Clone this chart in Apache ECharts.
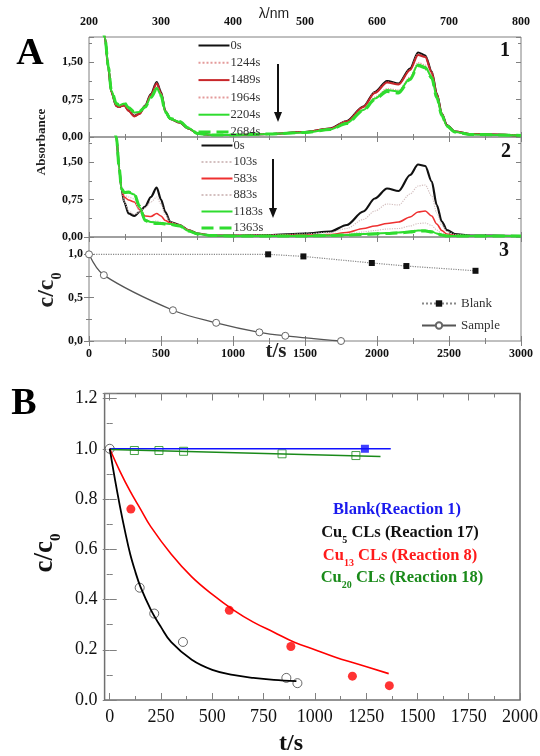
<!DOCTYPE html>
<html>
<head>
<meta charset="utf-8">
<script src="https://cdn.jsdelivr.net/npm/echarts@6/dist/echarts.min.js"></script>
<style>
  html, body { margin: 0; padding: 0; background: #fff; }
  #chart { width: 540px; height: 756px; }
</style>
</head>
<body>
<div id="chart"></div>
<script>
// ---------- panel A1 / A2 : absorbance spectra ----------
const wavelength = [215, 222, 227, 231, 238, 242, 245, 249, 255, 263, 270, 278, 286, 294, 300, 306, 313, 326, 338, 351,
  370, 400, 450, 500, 535, 558, 581, 597, 614, 630, 646, 657, 667, 676, 683, 690, 697, 708, 730, 800];

// A1 (blank reaction)
const a1_0s    = [2.6, 2.0, 1.37, 0.9, 0.62, 0.6, 0.62, 0.64, 0.53, 0.42, 0.47, 0.63, 0.86, 1.1, 0.9, 0.52, 0.36, 0.29, 0.17, 0.07,
  0.04, 0.04, 0.06, 0.1, 0.17, 0.32, 0.61, 0.9, 1.12, 1.07, 1.37, 1.69, 1.63, 1.31, 0.87, 0.47, 0.24, 0.11, 0.06, 0.03];
const a1_1244s = [2.6, 2.0, 1.37, 0.9, 0.62, 0.6, 0.62, 0.64, 0.53, 0.42, 0.47, 0.62, 0.85, 1.08, 0.89, 0.52, 0.36, 0.29, 0.17, 0.07,
  0.04, 0.04, 0.06, 0.1, 0.17, 0.32, 0.6, 0.89, 1.1, 1.06, 1.35, 1.66, 1.61, 1.3, 0.86, 0.47, 0.24, 0.11, 0.06, 0.03];
const a1_1489s = [2.6, 2.0, 1.37, 0.9, 0.62, 0.6, 0.62, 0.63, 0.52, 0.41, 0.46, 0.62, 0.84, 1.07, 0.88, 0.51, 0.36, 0.29, 0.17, 0.07,
  0.04, 0.04, 0.06, 0.1, 0.17, 0.31, 0.6, 0.88, 1.09, 1.05, 1.34, 1.64, 1.6, 1.29, 0.86, 0.46, 0.23, 0.11, 0.06, 0.03];
const a1_1964s = [2.6, 2.0, 1.39, 0.92, 0.65, 0.62, 0.64, 0.66, 0.56, 0.46, 0.49, 0.61, 0.82, 1.0, 0.86, 0.51, 0.36, 0.3, 0.18, 0.07,
  0.04, 0.04, 0.06, 0.09, 0.16, 0.29, 0.56, 0.8, 0.97, 0.94, 1.2, 1.49, 1.44, 1.23, 0.82, 0.45, 0.23, 0.1, 0.05, 0.03];
const a1_2204s = [2.6, 2.0, 1.4, 0.93, 0.66, 0.63, 0.65, 0.67, 0.58, 0.49, 0.5, 0.6, 0.8, 0.98, 0.84, 0.5, 0.36, 0.3, 0.18, 0.07,
  0.04, 0.04, 0.06, 0.09, 0.15, 0.28, 0.54, 0.77, 0.94, 0.91, 1.17, 1.45, 1.4, 1.2, 0.8, 0.44, 0.22, 0.1, 0.05, 0.03];
const a1_2684s = [2.6, 2.0, 1.4, 0.94, 0.67, 0.64, 0.66, 0.68, 0.59, 0.5, 0.51, 0.6, 0.79, 0.96, 0.83, 0.5, 0.37, 0.31, 0.18, 0.07,
  0.04, 0.04, 0.06, 0.09, 0.15, 0.27, 0.53, 0.75, 0.91, 0.88, 1.15, 1.43, 1.38, 1.18, 0.79, 0.43, 0.22, 0.1, 0.05, 0.03];

// A2 (sample)
const a2_0s    = [3.0, 3.0, 2.8, 2.5, 2.0, 1.37, 0.97, 0.7, 0.47, 0.42, 0.5, 0.61, 0.8, 0.99, 0.75, 0.5, 0.3, 0.24, 0.14, 0.07,
  0.03, 0.03, 0.04, 0.07, 0.11, 0.24, 0.51, 0.77, 0.97, 0.92, 1.24, 1.45, 1.42, 1.11, 0.64, 0.31, 0.14, 0.06, 0.03, 0.02];
const a2_103s  = [3.0, 3.0, 2.8, 2.5, 2.0, 1.37, 0.97, 0.72, 0.52, 0.45, 0.5, 0.58, 0.7, 0.8, 0.66, 0.45, 0.3, 0.24, 0.14, 0.07,
  0.03, 0.03, 0.04, 0.06, 0.09, 0.17, 0.35, 0.52, 0.66, 0.64, 0.86, 1.02, 1.04, 0.82, 0.48, 0.24, 0.11, 0.05, 0.03, 0.02];
const a2_583s  = [3.0, 3.0, 2.8, 2.5, 2.0, 1.37, 0.97, 0.8, 0.74, 0.7, 0.55, 0.42, 0.41, 0.47, 0.42, 0.33, 0.28, 0.24, 0.14, 0.07,
  0.03, 0.03, 0.03, 0.04, 0.05, 0.09, 0.17, 0.22, 0.27, 0.3, 0.4, 0.5, 0.52, 0.42, 0.26, 0.13, 0.06, 0.03, 0.02, 0.02];
const a2_883s  = [3.0, 3.0, 2.8, 2.5, 2.0, 1.37, 0.97, 0.84, 0.8, 0.76, 0.5, 0.34, 0.31, 0.32, 0.3, 0.27, 0.25, 0.23, 0.13, 0.06,
  0.03, 0.03, 0.03, 0.03, 0.04, 0.06, 0.1, 0.13, 0.16, 0.17, 0.22, 0.27, 0.28, 0.23, 0.14, 0.07, 0.04, 0.02, 0.02, 0.02];
const a2_1183s = [3.0, 3.0, 2.8, 2.5, 2.0, 1.37, 0.97, 0.88, 0.89, 0.85, 0.6, 0.34, 0.3, 0.29, 0.28, 0.27, 0.26, 0.22, 0.12, 0.06,
  0.03, 0.02, 0.02, 0.02, 0.03, 0.04, 0.06, 0.07, 0.08, 0.09, 0.11, 0.13, 0.13, 0.11, 0.07, 0.04, 0.02, 0.02, 0.02, 0.02];
const a2_1363s = [3.0, 3.0, 2.8, 2.5, 2.0, 1.37, 0.97, 0.89, 0.9, 0.86, 0.62, 0.33, 0.28, 0.27, 0.27, 0.26, 0.25, 0.22, 0.12, 0.06,
  0.03, 0.02, 0.02, 0.02, 0.03, 0.04, 0.05, 0.06, 0.07, 0.08, 0.1, 0.12, 0.12, 0.1, 0.07, 0.04, 0.02, 0.02, 0.02, 0.02];

// ---------- panel A3 : c/c0 vs t ----------
const a3BlankT  = [0, 1244, 1489, 1964, 2204, 2684];
const a3BlankC  = [1.0, 1.0, 0.976, 0.9, 0.865, 0.81];
const a3SampleT = [0, 103, 583, 883, 1183, 1363, 1750];
const a3SampleC = [1.0, 0.76, 0.355, 0.21, 0.1, 0.06, 0.0];

// ---------- panel B : c/c0 vs t ----------
const bBlankT = [1244];
const bBlankC = [1.0];
const bBlankFitT = [0, 1370];
const bBlankFitC = [1.0, 1.0];
const bCu5T = [0, 146, 217, 357, 861, 915];
const bCu5C = [1.0, 0.447, 0.344, 0.231, 0.088, 0.067];
const bCu5FitT = [0, 25, 50, 75, 100, 125, 150, 200, 250, 300, 400, 500, 600, 700, 800, 910];
const bCu5FitC = [1.0, 0.88, 0.77, 0.67, 0.58, 0.51, 0.45, 0.36, 0.29, 0.23, 0.16, 0.12, 0.1, 0.088, 0.08, 0.075];
const bCu13T = [103, 583, 883, 1183, 1363];
const bCu13C = [0.76, 0.357, 0.213, 0.095, 0.057];
const bCu13FitT = [0, 50, 100, 150, 200, 300, 400, 500, 600, 700, 800, 900, 1000, 1100, 1200, 1360];
const bCu13FitC = [1.0, 0.91, 0.83, 0.76, 0.69, 0.58, 0.49, 0.42, 0.36, 0.31, 0.27, 0.23, 0.2, 0.17, 0.145, 0.105];
const bCu20T = [120, 240, 360, 840, 1200];
const bCu20C = [0.993, 0.993, 0.99, 0.98, 0.973];
const bCu20FitT = [0, 1320];
const bCu20FitC = [0.997, 0.969];
const bTickMajor = [0, 250, 500, 750, 1000, 1250, 1500, 1750, 2000];
const bTickMinor = [125, 375, 625, 875, 1125, 1375, 1625, 1875];

const chart = echarts.init(document.getElementById('chart'));
const SERIF = 'Liberation Serif';
const FRAME = '#808080';
const pair = (xs, ys) => xs.map((x, i) => [x, ys[i]]);

// axis that only draws ticks (and optionally labels); the frame comes from grid border
function axis(gridIndex, position, min, max, interval, o) {
  o = o || {};
  const tick = { show: true, inside: true, length: o.tickLen || 5, lineStyle: { color: FRAME, width: 1 } };
  if (o.ticks) tick.customValues = o.ticks;
  const ax = {
    type: 'value', gridIndex: gridIndex, position: position, min: min, max: max,
    axisLine: { show: false },
    splitLine: { show: false },
    axisTick: tick,
    minorTick: { show: !!o.minor, splitNumber: 2, length: 3, lineStyle: { color: FRAME } },
    axisLabel: o.label ? Object.assign({ show: true, color: '#111', fontFamily: SERIF, formatter: v => String(v) }, o.label) : { show: false }
  };
  if (interval != null) ax.interval = interval;
  return ax;
}

const boldA = { fontWeight: 'bold', fontSize: 12 };
const comma = d => v => v.toFixed(d).replace('.', ',');

const gridA = { left: 89, width: 432, show: true, borderColor: FRAME, borderWidth: 1, outerBoundsMode: 'none' };

function spec(name, data, xi, yi, color, width, type) {
  return {
    name: name, type: 'line', xAxisIndex: xi, yAxisIndex: yi,
    data: pair(wavelength, data), symbol: 'none', showSymbol: false,
    smooth: 0.3, smoothMonotone: 'x',
    lineStyle: { color: color, width: width, type: type || 'solid' },
    itemStyle: { color: color }
  };
}

const DOT1 = '#e49a9a', DOT2 = '#d4c0c0', GREEN = '#2fdc2f';
const specLegend = {
  orient: 'vertical', padding: 0, itemWidth: 31, itemHeight: 10,
  selectedMode: false, itemStyle: { opacity: 0 },
  textStyle: { fontFamily: SERIF, fontSize: 12.5, color: '#333', padding: [0, 0, 0, -4] }
};
const thickDash = name => ({ name: name, lineStyle: { width: 3 } });

const option = {
  animation: false,
  backgroundColor: '#fff',
  grid: [
    Object.assign({ top: 37, height: 100 }, gridA),
    Object.assign({ top: 137, height: 100 }, gridA),
    Object.assign({ top: 237, height: 104 }, gridA),
    { left: 104.6, width: 415.4, top: 393.5, height: 306.5, show: true, borderColor: '#707070', borderWidth: 1.5, outerBoundsMode: 'none' }
  ],
  xAxis: [
    axis(0, 'top', 200, 800, 100, { minor: true, label: Object.assign({ margin: 9, showMinLabel: true, showMaxLabel: true }, boldA) }),
    axis(0, 'bottom', 200, 800, 100, { minor: true }),
    axis(1, 'top', 200, 800, 100, { minor: true }),
    axis(1, 'bottom', 200, 800, 100, { minor: true }),
    axis(2, 'bottom', 0, 3000, 500, { minor: true, label: Object.assign({ margin: 7, showMinLabel: true, showMaxLabel: true }, boldA) }),
    axis(2, 'top', 0, 3000, 500, { minor: true }),
    axis(3, 'bottom', -25, 2000, null, { ticks: bTickMajor, tickLen: 7,
      label: { customValues: bTickMajor, fontSize: 18, margin: 8 } }),
    axis(3, 'bottom', -25, 2000, null, { ticks: bTickMinor, tickLen: 4 }),
    axis(3, 'top', -25, 2000, null, { ticks: bTickMajor, tickLen: 7 }),
    axis(3, 'top', -25, 2000, null, { ticks: bTickMinor, tickLen: 4 })
  ],
  yAxis: [
    axis(0, 'left', 0, 2.0, 0.75, { minor: true, label: Object.assign({ margin: 6, showMaxLabel: false, formatter: comma(2) }, boldA) }),
    axis(0, 'right', 0, 2.0, 0.75, { minor: true }),
    axis(1, 'left', 0, 2.0, 0.75, { minor: true, label: Object.assign({ margin: 6, showMaxLabel: false, formatter: comma(2) }, boldA) }),
    axis(1, 'right', 0, 2.0, 0.75, { minor: true }),
    axis(2, 'left', 0, 1.2, 0.5, { minor: true, label: Object.assign({ margin: 6, showMaxLabel: false, formatter: comma(1) }, boldA) }),
    axis(2, 'right', 0, 1.2, 0.5, { minor: true }),
    axis(3, 'left', 0, 1.22, 0.2, { minor: true, tickLen: 7,
      label: { margin: 7, fontSize: 18, showMaxLabel: false, formatter: v => v.toFixed(1) } }),
    axis(3, 'right', 0, 1.22, 0.2, { minor: true, tickLen: 7 })
  ],
  legend: [
    Object.assign({ data: ['0s', '1244s', '1489s', '1964s', '2204s', thickDash('2684s')], left: 197, top: 39, itemGap: 4.3 }, specLegend),
    Object.assign({ data: ['0s', '103s', '583s', '883s', '1183s', thickDash('1363s')], left: 200, top: 139, itemGap: 3.5 }, specLegend),
    {
      data: ['Blank', 'Sample'], padding: 0,
      orient: 'vertical', left: 421, top: 297, itemWidth: 34, itemHeight: 8, itemGap: 9,
      selectedMode: false, textStyle: { fontFamily: SERIF, fontSize: 13, color: '#333' }
    }
  ],
  series: [
    // A1
    spec('0s', a1_0s, 0, 0, '#111', 2.2),
    spec('1244s', a1_1244s, 0, 0, DOT1, 1.2, 'dotted'),
    spec('1489s', a1_1489s, 0, 0, '#c8262a', 2),
    spec('1964s', a1_1964s, 0, 0, DOT1, 1.2, 'dotted'),
    spec('2204s', a1_2204s, 0, 0, GREEN, 2),
    spec('2684s', a1_2684s, 0, 0, GREEN, 3, 'dashed'),
    // A2
    spec('0s', a2_0s, 2, 2, '#111', 2.2),
    spec('103s', a2_103s, 2, 2, DOT2, 1.2, 'dotted'),
    spec('583s', a2_583s, 2, 2, '#ee3030', 1.6),
    spec('883s', a2_883s, 2, 2, DOT2, 1.2, 'dotted'),
    spec('1183s', a2_1183s, 2, 2, GREEN, 2),
    spec('1363s', a2_1363s, 2, 2, GREEN, 3, 'dashed'),
    // A3
    {
      name: 'Blank', type: 'line', xAxisIndex: 4, yAxisIndex: 4,
      data: a3BlankT.map((t, i) => i === 0 ? { value: [t, a3BlankC[i]], symbol: 'none' } : [t, a3BlankC[i]]),
      symbol: 'rect', symbolSize: 6, itemStyle: { color: '#111' },
      lineStyle: { color: '#888', width: 1.2, type: 'dotted' }
    },
    {
      name: 'Sample', type: 'line', xAxisIndex: 4, yAxisIndex: 4, smooth: 0.35,
      data: pair(a3SampleT, a3SampleC),
      symbol: 'circle', symbolSize: 7, itemStyle: { color: '#fff', borderColor: '#666', borderWidth: 1 },
      lineStyle: { color: '#555', width: 1.3 }
    },
    // B fits
    { type: 'line', xAxisIndex: 6, yAxisIndex: 6, data: pair(bBlankFitT, bBlankFitC), symbol: 'none',
      lineStyle: { color: '#1010ff', width: 1.6 } },
    { type: 'line', xAxisIndex: 6, yAxisIndex: 6, data: pair(bCu20FitT, bCu20FitC), symbol: 'none',
      lineStyle: { color: '#1a8a1a', width: 1.6 } },
    { type: 'line', xAxisIndex: 6, yAxisIndex: 6, data: pair(bCu13FitT, bCu13FitC), symbol: 'none', smooth: 0.4,
      lineStyle: { color: '#ff0000', width: 1.6 } },
    { type: 'line', xAxisIndex: 6, yAxisIndex: 6, data: pair(bCu5FitT, bCu5FitC), symbol: 'none', smooth: 0.4,
      lineStyle: { color: '#000', width: 1.8 } },
    // B points
    { type: 'scatter', xAxisIndex: 6, yAxisIndex: 6, data: pair(bCu20T, bCu20C), symbol: 'rect', symbolSize: 8,
      itemStyle: { color: '#fff', borderColor: '#1a8a1a', borderWidth: 1 } },
    { type: 'scatter', xAxisIndex: 6, yAxisIndex: 6, data: pair(bBlankT, bBlankC), symbol: 'rect', symbolSize: 8,
      itemStyle: { color: '#1010ff' } },
    { type: 'scatter', xAxisIndex: 6, yAxisIndex: 6, data: pair(bCu13T, bCu13C), symbol: 'circle', symbolSize: 9,
      itemStyle: { color: '#ff0000' } },
    { type: 'scatter', xAxisIndex: 6, yAxisIndex: 6, data: pair(bCu5T, bCu5C), symbol: 'circle', symbolSize: 9,
      itemStyle: { color: '#fff', borderColor: '#444', borderWidth: 1 } }
  ],
  graphic: [
    { type: 'text', x: 30, y: 54, style: { text: 'A', font: 'bold 38px "Liberation Serif"', fill: '#000', align: 'center', verticalAlign: 'middle' } },
    { type: 'text', x: 24, y: 404, style: { text: 'B', font: 'bold 38px "Liberation Serif"', fill: '#000', align: 'center', verticalAlign: 'middle' } },
    { type: 'text', x: 274, y: 14, style: { text: 'λ/nm', font: '14px "Liberation Sans"', fill: '#222', align: 'center', verticalAlign: 'middle' } },
    { type: 'text', x: 42, y: 142, rotation: Math.PI / 2,
      style: { text: 'Absorbance', font: 'bold 13px "Liberation Serif"', fill: '#222', align: 'center', verticalAlign: 'middle' } },
    { type: 'text', x: 47, y: 290, rotation: Math.PI / 2,
      style: { text: '{a|c/c}{s|0}', align: 'center', verticalAlign: 'middle', fill: '#222',
        rich: { a: { font: 'bold 24px "Liberation Serif"', lineHeight: 28 },
                s: { font: 'bold 14px "Liberation Serif"', lineHeight: 34, verticalAlign: 'bottom' } } } },
    { type: 'text', x: 276, y: 352, style: { text: 't/s', font: 'bold 21px "Liberation Serif"', fill: '#222', align: 'center', verticalAlign: 'middle' } },
    { type: 'text', x: 505, y: 51, style: { text: '1', font: 'bold 20px "Liberation Serif"', fill: '#111', align: 'center', verticalAlign: 'middle' } },
    { type: 'text', x: 506, y: 152, style: { text: '2', font: 'bold 20px "Liberation Serif"', fill: '#111', align: 'center', verticalAlign: 'middle' } },
    { type: 'text', x: 504, y: 251, style: { text: '3', font: 'bold 20px "Liberation Serif"', fill: '#111', align: 'center', verticalAlign: 'middle' } },
    // arrows (time direction)
    { type: 'line', shape: { x1: 278, y1: 64, x2: 278, y2: 114 }, style: { stroke: '#111', lineWidth: 2 } },
    { type: 'polygon', shape: { points: [[274, 112], [282, 112], [278, 122]] }, style: { fill: '#111' } },
    { type: 'line', shape: { x1: 273, y1: 159, x2: 273, y2: 210 }, style: { stroke: '#111', lineWidth: 2 } },
    { type: 'polygon', shape: { points: [[269, 208], [277, 208], [273, 218]] }, style: { fill: '#111' } },
    // panel B titles
    { type: 'text', x: 45, y: 553, rotation: Math.PI / 2,
      style: { text: '{a|c/c}{s|0}', align: 'center', verticalAlign: 'middle', fill: '#111',
        rich: { a: { font: 'bold 27px "Liberation Serif"', lineHeight: 30 },
                s: { font: 'bold 15px "Liberation Serif"', lineHeight: 38, verticalAlign: 'bottom' } } } },
    { type: 'text', x: 291, y: 744, style: { text: 't/s', font: 'bold 24px "Liberation Serif"', fill: '#111', align: 'center', verticalAlign: 'middle' } },
    { type: 'text', x: 397, y: 510, style: { text: 'Blank(Reaction 1)', font: 'bold 16.5px "Liberation Serif"', fill: '#1a1aee', align: 'center', verticalAlign: 'middle' } },
    { type: 'text', x: 400, y: 533, style: { text: '{a|Cu}{s|5}{a| CLs (Reaction 17)}', align: 'center', verticalAlign: 'middle', fill: '#111',
        rich: { a: { font: 'bold 16.5px "Liberation Serif"', lineHeight: 18 }, s: { font: 'bold 10px "Liberation Serif"', lineHeight: 24, verticalAlign: 'bottom' } } } },
    { type: 'text', x: 400, y: 556, style: { text: '{a|Cu}{s|13}{a| CLs (Reaction 8)}', align: 'center', verticalAlign: 'middle', fill: '#ff1a1a',
        rich: { a: { font: 'bold 16.5px "Liberation Serif"', lineHeight: 18 }, s: { font: 'bold 10px "Liberation Serif"', lineHeight: 24, verticalAlign: 'bottom' } } } },
    { type: 'text', x: 402, y: 578, style: { text: '{a|Cu}{s|20}{a| CLs (Reaction 18)}', align: 'center', verticalAlign: 'middle', fill: '#1a8a1a',
        rich: { a: { font: 'bold 16.5px "Liberation Serif"', lineHeight: 18 }, s: { font: 'bold 10px "Liberation Serif"', lineHeight: 24, verticalAlign: 'bottom' } } } }
  ]
};

chart.setOption(option);
</script>
</body>
</html>
